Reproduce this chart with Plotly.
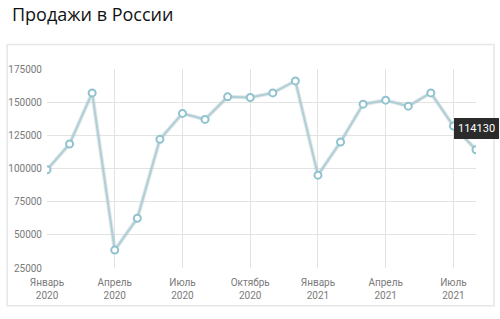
import plotly.graph_objects as go

months = ["Январь 2020", "Февраль 2020", "Март 2020", "Апрель 2020", "Май 2020", "Июнь 2020",
          "Июль 2020", "Август 2020", "Сентябрь 2020", "Октябрь 2020", "Ноябрь 2020", "Декабрь 2020",
          "Январь 2021", "Февраль 2021", "Март 2021", "Апрель 2021", "Май 2021", "Июнь 2021",
          "Июль 2021", "Август 2021"]
sales = [99000, 118500, 157000, 38500, 62500, 122000, 141500, 137000, 154000, 153500,
         157000, 166000, 95000, 120000, 148500, 151500, 147000, 157000, 132000, 114130]
tick_vals = ["Январь 2020", "Апрель 2020", "Июль 2020", "Октябрь 2020",
             "Январь 2021", "Апрель 2021", "Июль 2021"]
tick_text = ["Январь<br>2020", "Апрель<br>2020", "Июль<br>2020", "Октябрь<br>2020",
             "Январь<br>2021", "Апрель<br>2021", "Июль<br>2021"]
y_ticks = [25000, 50000, 75000, 100000, 125000, 150000, 175000]

tick_font = dict(family="Roboto", size=10, color="#7a7a7a")

fig = go.Figure()
fig.add_trace(go.Scatter(x=months, y=sales, mode="lines",
                         line=dict(color="rgba(140,160,165,0.25)", width=4),
                         hoverinfo="skip", showlegend=False))
fig.add_trace(go.Scatter(x=months, y=sales, mode="lines+markers",
                         line=dict(color="#afcfd7", width=2),
                         marker=dict(size=7, color="white", line=dict(color="#90c2d0", width=2)),
                         showlegend=False))

fig.add_annotation(x=months[-1], y=sales[-1], text=str(sales[-1]), showarrow=False,
                   yshift=21, bgcolor="#2b2b2b", bordercolor="#2b2b2b", borderpad=3,
                   font=dict(color="white", size=11, family="Roboto"))

fig.add_shape(type="rect", xref="paper", yref="paper", x0=-0.093, x1=1.042, y0=-0.19, y1=1.123,
              line=dict(color="#e6e6e6", width=1.5), layer="below")

fig.update_layout(
    width=500, height=319,
    margin=dict(l=47, r=24, t=68.5, b=51, autoexpand=False),
    paper_bgcolor="white", plot_bgcolor="white",
    title=dict(text="Продажи в России", x=0.024, xanchor="left", y=0.955, yanchor="middle",
               font=dict(family="Open Sans", size=18, color="#111")),
    xaxis=dict(type="category", range=[0, len(months) - 1], tickvals=tick_vals, ticktext=tick_text,
               automargin=False,
               showgrid=True, gridcolor="#e3e3e3", gridwidth=1, zeroline=False, showline=False,
               ticks="outside", ticklen=5, tickcolor="rgba(0,0,0,0)", tickfont=tick_font),
    yaxis=dict(range=[25000, 175000], tickvals=y_ticks, ticktext=[str(v) for v in y_ticks],
               automargin=False,
               showgrid=True, gridcolor="#e3e3e3", gridwidth=1, zeroline=False, showline=False,
               ticks="outside", ticklen=2, tickcolor="rgba(0,0,0,0)", tickfont=tick_font),
)

fig.write_html("out.html")
